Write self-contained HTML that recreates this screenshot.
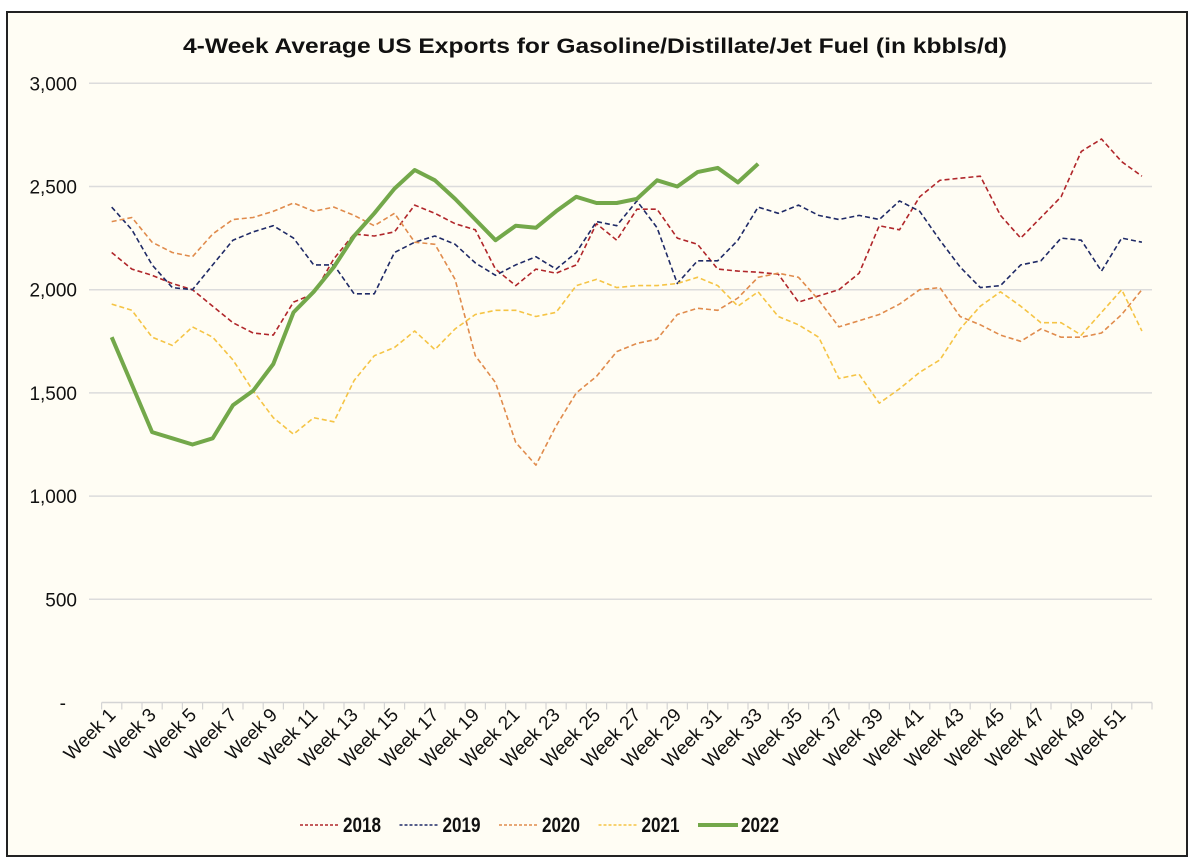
<!DOCTYPE html>
<html><head><meta charset="utf-8"><style>
body{margin:0;background:#fff;}
svg{display:block;font-family:"Liberation Sans",sans-serif;}
</style></head><body>
<svg id="chart" width="1200" height="865" viewBox="0 0 1200 865">
<rect x="7" y="12" width="1180" height="844" fill="#fffdf4" stroke="#222" stroke-width="2"/>
<text x="595" y="53" text-anchor="middle" font-size="21" font-weight="bold" textLength="824" lengthAdjust="spacingAndGlyphs" fill="#111">4-Week Average US Exports for Gasoline/Distillate/Jet Fuel (in kbbls/d)</text>
<g id="grid"></g><g id="yaxis"></g><g id="xaxis"></g><g id="series"></g><g id="legend"></g>
</svg>
<script>
const weeks = Array.from({length:52},(_,i)=>'Week '+(i+1));
const yTicks = [0,500,1000,1500,2000,2500,3000];
const yTickLabels = ['-','500','1,000','1,500','2,000','2,500','3,000'];
const seriesNames = ['2018','2019','2020','2021','2022'];
const s2018 = [2180,2100,2070,2030,2000,1920,1840,1790,1780,1940,1980,2150,2270,2260,2280,2410,2370,2320,2290,2100,2020,2100,2080,2120,2320,2240,2390,2390,2250,2220,2100,2090,2085,2075,1940,1970,2000,2080,2310,2290,2450,2530,2540,2550,2360,2250,2350,2450,2670,2730,2620,2550];
const s2019 = [2400,2290,2120,2010,2000,2120,2240,2280,2310,2250,2120,2120,1980,1980,2180,2230,2260,2220,2130,2070,2120,2160,2100,2180,2330,2310,2430,2300,2030,2140,2140,2240,2400,2370,2410,2360,2340,2360,2340,2430,2380,2240,2110,2010,2020,2120,2140,2250,2240,2090,2250,2230];
const s2020 = [2330,2350,2230,2180,2160,2270,2340,2350,2380,2420,2380,2400,2360,2310,2370,2230,2220,2050,1680,1550,1260,1150,1340,1500,1580,1700,1740,1760,1880,1910,1900,1960,2060,2080,2060,1950,1820,1850,1880,1930,2000,2010,1870,1830,1780,1750,1810,1770,1770,1790,1880,2000];
const s2021 = [1930,1900,1770,1730,1820,1770,1660,1510,1380,1300,1380,1360,1560,1680,1720,1800,1710,1810,1880,1900,1900,1870,1890,2020,2050,2010,2020,2020,2030,2060,2020,1920,1990,1870,1830,1770,1570,1590,1450,1520,1600,1660,1810,1920,1990,1920,1840,1840,1780,1890,2000,1800];
const s2022 = [1770,1540,1310,1280,1250,1280,1440,1510,1640,1890,1990,2110,2260,2370,2490,2580,2530,2440,2340,2240,2310,2300,2380,2450,2420,2420,2440,2530,2500,2570,2590,2520,2610];

const NS='http://www.w3.org/2000/svg';
const X0=101.6, STEP=20.2, Y0=702.5, PXPER=0.2064;
const xPos=i=>X0+STEP*(i+0.5);
const yPos=v=>Y0-v*PXPER;
function mk(tag,attrs,parent){const e=document.createElementNS(NS,tag);for(const k in attrs)e.setAttribute(k,attrs[k]);parent.appendChild(e);return e;}
const grid=document.getElementById('grid'),ya=document.getElementById('yaxis'),xa=document.getElementById('xaxis'),sg=document.getElementById('series'),lg=document.getElementById('legend');
yTicks.forEach((t,i)=>{
  if(t>0){const l=mk('line',{x1:89,x2:1152,y1:yPos(t),y2:yPos(t),stroke:'#dcdcdc','stroke-width':1.5},grid);
  
  }
  const tx=mk('text',{x:t===0?66:77,y:yPos(t)+7,'text-anchor':'end','font-size':19,fill:'#111'},ya);
  tx.textContent=yTickLabels[i];
  
  
});
const ax=mk('line',{x1:X0,x2:X0+STEP*52,y1:Y0,y2:Y0,stroke:'#d4d4d4','stroke-width':1.5},xa);


for(let i=0;i<=52;i++){const tk=mk('line',{x1:X0+STEP*i,x2:X0+STEP*i,y1:Y0,y2:Y0+7,stroke:'#d4d4d4','stroke-width':1.2},xa);

}
weeks.forEach((w,i)=>{ if(i%2) return;
  const x=xPos(i)+5,y=716;
  const t=mk('text',{x:x,y:y,'text-anchor':'end','font-size':19,fill:'#111',transform:`rotate(-45 ${x} ${y})`},xa);
  t.textContent=w;
  
  
});
const styles=[
 {d:s2018,c:'#b0262a',w:1.6,dash:'5 3'},
 {d:s2019,c:'#1f2a66',w:1.6,dash:'5 3'},
 {d:s2020,c:'#e08b4c',w:1.6,dash:'5 3'},
 {d:s2021,c:'#f5c445',w:1.6,dash:'5 3'},
 {d:s2022,c:'#73a84a',w:4,dash:''}];
styles.forEach((s,k)=>{
  const pts=s.d.map((v,i)=>xPos(i).toFixed(1)+','+yPos(v).toFixed(1)).join(' ');
  const p=mk('polyline',{points:pts,fill:'none',stroke:s.c,'stroke-width':s.w,'stroke-dasharray':s.dash,'stroke-linejoin':'round'},sg);
  
  
  const lx=300+k*99.5;
  const g=mk('g',{},lg);
  
  
  mk('line',{x1:lx,x2:lx+40,y1:825,y2:825,stroke:s.c,'stroke-width':s.w,'stroke-dasharray':s.dash?'3 2':''},g);
  const t=mk('text',{x:lx+43,y:832,'font-size':21,'font-weight':'bold',fill:'#111',textLength:38,lengthAdjust:'spacingAndGlyphs'},g);
  t.textContent=seriesNames[k];
});
</script>
</body></html>
